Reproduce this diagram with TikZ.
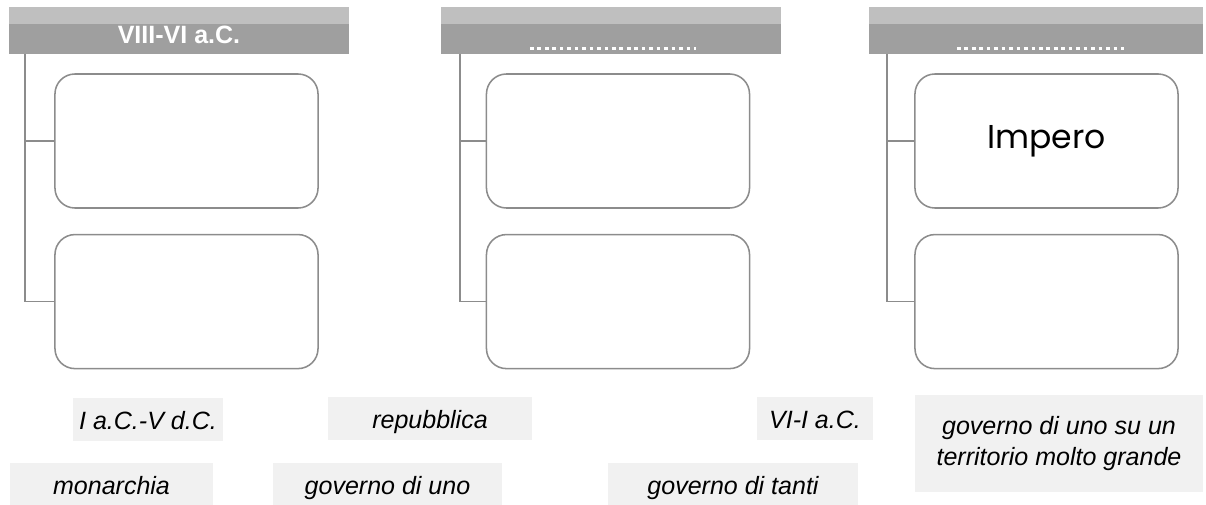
\documentclass[tikz,border=0pt]{standalone}
\usepackage{fontspec}
\setmainfont{Liberation Sans}
\newfontfamily\handfont{Poppins}
\usetikzlibrary{positioning}

\begin{document}
\begin{tikzpicture}[
            x=0.025cm, y=-0.025cm,
            header/.style={rectangle, fill=gray!75, minimum width=8.5cm, minimum height=1.175cm, inner sep=0pt, text=white, font=\bfseries\fontsize{17.8}{20}\selectfont, text height=17.8pt, text depth=0pt,
                path picture={\fill[gray!50] (path picture bounding box.north west) rectangle ([yshift=-0.425cm]path picture bounding box.north east);}},
            slot/.style={rectangle, draw=gray!90, line width=1.1pt, rounded corners=0.5cm, minimum width=6.575cm, minimum height=3.35cm},
            link/.style={draw=gray!90, line width=1pt},
            dots/.style={draw=white, line width=2.6pt, dash pattern=on 2.6pt off 2.7pt},
            card/.style={rectangle, fill=gray!11, inner sep=0pt, minimum height=1.075cm, font=\itshape\fontsize{17.8}{22}\selectfont},
            oneline/.style={card, text height=16pt, text depth=1.8pt}
            ]
            \useasboundingbox (0,0) rectangle (1206,505);

            % Header bars
            \node[header] (era1) at (179,30.5) {VIII-VI a.C.};
            \node[header] (era2) at (611,30.5) {};
            \node[header, minimum width=8.35cm] (era3) at (1036,30.5) {};

            % Blanks to fill in
            \draw[dots] (530,48.5) -- (696,48.5);
            \draw[dots] (957,48.5) -- (1124,48.5);

            % Boxes
            \node[slot] (top1) at (186.5,141) {};
            \node[slot, below=0.625cm of top1] (bot1) {};
            \node[slot] (top2) at (618,141) {};
            \node[slot, below=0.625cm of top2] (bot2) {};
            \node[slot, font=\handfont\fontsize{23.5}{26}\selectfont] (top3) at (1046.5,141) {Impero};
            \node[slot, below=0.625cm of top3] (bot3) {};

            % Spines
            \coordinate (spine1) at (25,54);
            \coordinate (spine2) at (460,54);
            \coordinate (spine3) at (887,54);
            \draw[link] (spine1) |- (bot1.west);
            \draw[link] (top1.west) -- (top1.west -| spine1);
            \draw[link] (spine2) |- (bot2.west);
            \draw[link] (top2.west) -- (top2.west -| spine2);
            \draw[link] (spine3) |- (bot3.west);
            \draw[link] (top3.west) -- (top3.west -| spine3);

            % Word cards
            \node[oneline, minimum width=3.75cm] (aCdC) at (148,419.5) {I a.C.-V d.C.};
            \node[oneline, minimum width=5.1cm] (repubblica) at (430,418.5) {repubblica};
            \node[oneline, minimum width=2.9cm] (vIaC) at (815,418.5) {VI-I a.C.};
            \node[card, minimum width=7.2cm, minimum height=2.425cm, align=center] (vasto) at (1059,443.5) {governo di uno su un\\territorio molto grande};
            \node[oneline, minimum width=5.075cm] (monarchia) at (111.5,485) {monarchia};
            \node[oneline, minimum width=5.725cm] (uno) at (387.5,485) {governo di uno};
            \node[oneline, minimum width=6.25cm] (tanti) at (733,485) {governo di tanti};

        \end{tikzpicture}
\end{document}
